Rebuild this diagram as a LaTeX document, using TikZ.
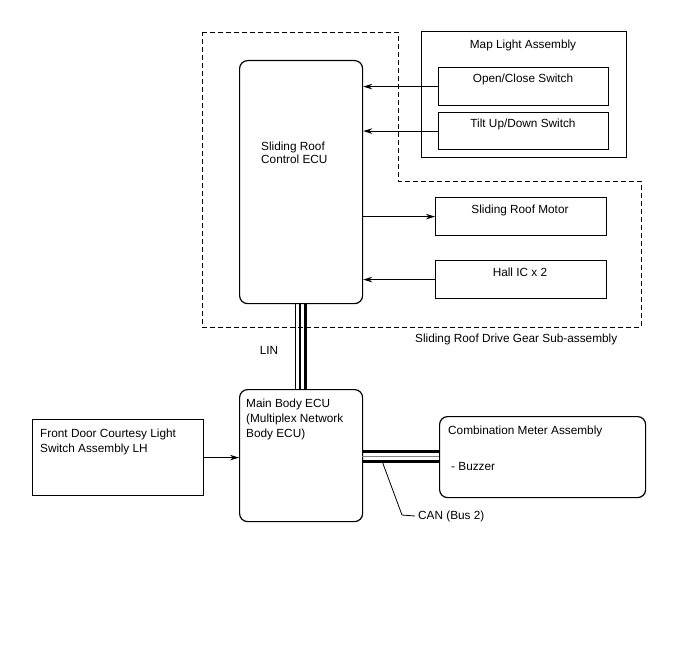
\documentclass[tikz,border=0pt]{standalone}
\usepackage{fontspec}
\setmainfont{Liberation Sans}
\usetikzlibrary{arrows.meta}
\tikzset{
  box/.style={draw, line width=1.2pt, anchor=north west, inner sep=0pt},
  rbox/.style={box, rounded corners=8pt},
  lbl/.style={font=\fontsize{11.8}{13}\selectfont, inner sep=0pt},
  sig/.style={line width=1.1pt, -{Stealth[length=9pt,width=5.5pt]}},
  dashbox/.style={draw, line width=0.9pt, dash pattern=on 5pt off 3pt},
}
\begin{document}
\begin{tikzpicture}[x=1pt,y=-1pt]
\useasboundingbox (0,0) rectangle (688,658);
% dashed sub-assembly outline
\draw[dashbox] (202,32) -- (398,32) -- (398,181) -- (641,181) -- (641,327) -- (202,327) -- cycle;
\node[lbl, anchor=west] (subl) at (415,339) {Sliding Roof Drive Gear Sub-assembly};
% Sliding roof control ECU
\node[rbox, minimum width=123pt, minimum height=243pt] (ecu) at (239,60) {};
\node[lbl, anchor=north west, align=left] (ecut) at (261,141.5) {Sliding Roof\\Control ECU};
% Map light assembly
\node[box, minimum width=205pt, minimum height=126pt] (map) at (421,31) {};
\node[lbl] (mapt) at (523,45) {Map Light Assembly};
\node[box, minimum width=170pt, minimum height=38pt] (oc) at (438,67) {};
\node[lbl] (oct) at (523,79) {Open/Close Switch};
\node[box, minimum width=170pt, minimum height=37pt] (tilt) at (438,112) {};
\node[lbl] (tiltt) at (523,124) {Tilt Up/Down Switch};
% motor and hall
\node[box, minimum width=171pt, minimum height=38pt] (mot) at (435,197) {};
\node[lbl] (mott) at (520,210) {Sliding Roof Motor};
\node[box, minimum width=171pt, minimum height=38pt] (hall) at (435,260) {};
\node[lbl] (hallt) at (520,272) {Hall IC x 2};
% main body ECU
\node[rbox, minimum width=123pt, minimum height=132pt] (mbe) at (239,389) {};
\node[lbl, anchor=north west, align=left, font=\fontsize{11.8}{15}\selectfont] (mbet) at (246,398.5) {Main Body ECU\\(Multiplex Network\\Body ECU)};
% front door switch
\node[box, minimum width=171pt, minimum height=76pt] (fd) at (32,419) {};
\node[lbl, anchor=north west, align=left, font=\fontsize{11.8}{15}\selectfont] (fdt) at (40,428.5) {Front Door Courtesy Light\\Switch Assembly LH};
% combination meter
\node[rbox, minimum width=206pt, minimum height=81pt] (cm) at (439,416) {};
\node[lbl, anchor=west] (cmt) at (448,431) {Combination Meter Assembly};
\node[lbl, anchor=west] (bz) at (451,466) {- Buzzer};
% signal arrows
\draw[sig] (oc.west) -- (ecu.east |- oc.west);
\draw[sig] (tilt.west) -- (ecu.east |- tilt.west);
\draw[sig] (ecu.east |- mot.west) -- (mot.west);
\draw[sig] (hall.west) -- (ecu.east |- hall.west);
\draw[sig] (fd.east) -- (mbe.west |- fd.east);
% LIN bus
\draw[line width=1.5pt] ([xshift=-5.5pt]ecu.south) -- ([xshift=-5.5pt]mbe.north);
\draw[line width=2.5pt] ([xshift=-1pt]ecu.south) -- ([xshift=-1pt]mbe.north);
\draw[line width=2.5pt] ([xshift=4.5pt]ecu.south) -- ([xshift=4.5pt]mbe.north);
\node[lbl] (lin) at (269,350) {LIN};
% CAN bus
\coordinate (canl) at (362,456.5);
\coordinate (canr) at (439,456.5);
\draw[line width=3pt] ([yshift=-5pt]canl) -- ([yshift=-5pt]canr);
\draw[line width=0.6pt, black!50] (canl) -- (canr);
\draw[line width=3pt] ([yshift=5pt]canl) -- ([yshift=5pt]canr);
\coordinate (cana) at (382,461);
\coordinate (canb) at (402,515);
\node[lbl, anchor=west] (cant) at (418,516) {CAN (Bus 2)};
\draw[line width=0.8pt] (cana) -- (canb) -- ([xshift=-3pt]cant.west);
\end{tikzpicture}
\end{document}
